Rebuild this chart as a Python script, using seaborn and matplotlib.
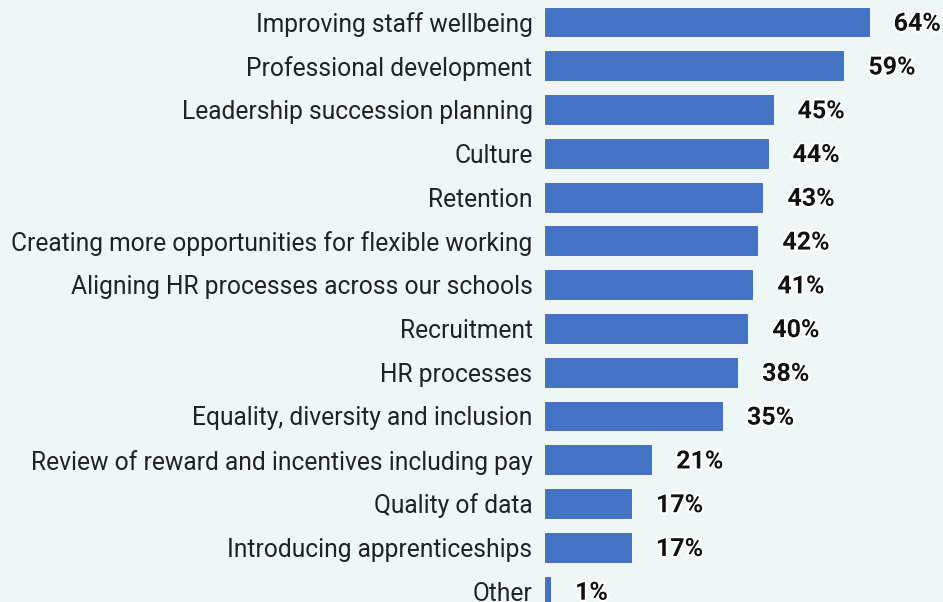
import matplotlib
matplotlib.use("Agg")
import matplotlib.pyplot as plt
import matplotlib.patheffects as pe
import pandas as pd
import seaborn as sns

categories = [
    "Improving staff wellbeing",
    "Professional development",
    "Leadership succession planning",
    "Culture",
    "Retention",
    "Creating more opportunities for flexible working",
    "Aligning HR processes across our schools",
    "Recruitment",
    "HR processes",
    "Equality, diversity and inclusion",
    "Review of reward and incentives including pay",
    "Quality of data",
    "Introducing apprenticeships",
    "Other",
]
values = [64, 59, 45, 44, 43, 42, 41, 40, 38, 35, 21, 17, 17, 1]

df = pd.DataFrame({"category": categories, "value": values})

bg = "#eef7f6"
bar_color = "#4472c4"

sns.set_theme(style="white")
plt.rcParams["font.family"] = ["Roboto", "DejaVu Sans"]

fig = plt.figure(figsize=(9.43, 6.02), dpi=100, facecolor=bg)
ax = fig.add_axes([545 / 943, 0, 1 - 545 / 943, 1])
ax.set_facecolor(bg)

sns.barplot(data=df, x="value", y="category", orient="h", color=bar_color,
            width=0.66, saturation=1, ax=ax, edgecolor="#3f66b0", linewidth=0.6)

ax.set_xlim(0, 78.7)
ax.set_ylim(13.25, -0.503)
ax.set_xlabel("")
ax.set_ylabel("")
ax.set_xticks([])
for s in ax.spines.values():
    s.set_visible(False)

ax.tick_params(axis="y", length=0, pad=9, labelsize=17.7, labelcolor="#222222")

for i, v in enumerate(values):
    ax.annotate(f"{v}%", xy=(v, i), xytext=(18, -1.2), textcoords="offset points",
                ha="left", va="center", fontsize=18, fontweight="bold", color="#111111",
                path_effects=[pe.withStroke(linewidth=3, foreground="white")])

fig.savefig("out.png", dpi=100, facecolor=bg)
